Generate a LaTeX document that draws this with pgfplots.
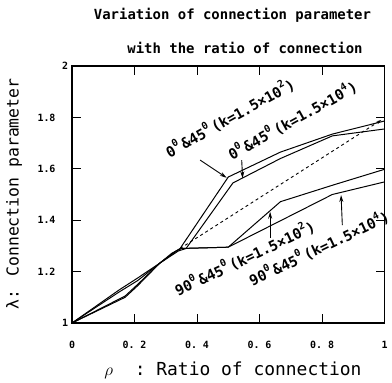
\documentclass[border=0pt]{standalone}
\usepackage{pgfplots}
\pgfplotsset{compat=1.18}
\usepackage{fontspec}
\setmainfont{DejaVu Sans Mono}
\usetikzlibrary{arrows.meta}
\newcommand\sfolk[1]{\raisebox{0.5em}{\fontsize{10}{10}\selectfont #1}}
\begin{document}
\begin{tikzpicture}
\useasboundingbox (0,0) rectangle (392bp,383bp);
\begin{axis}[
  at={(72bp,60bp)}, anchor=south west,
  scale only axis, width=312.5bp, height=257bp,
  xmin=0, xmax=1, ymin=1, ymax=2,
  xtick={0,0.2,0.4,0.6,0.8,1},
  xticklabels={0,0.\ 2,0.\ 4,0.\ 6,0.\ 8,1},
  ytick={1,1.2,1.4,1.6,1.8,2},
  yticklabels={\hspace{37bp}1,1.2,1.4,1.6,1.8,\hspace{37bp}2},
  tick align=inside, major tick length=9bp,
  tick style={black, line width=0.9pt},
  axis line style={line width=1.2pt},
  ticklabel style={font=\bfseries\fontsize{10}{11}\selectfont},
  xticklabel style={anchor=center, yshift=-22bp},
  yticklabel style={anchor=center, xshift=-25.5bp},
  clip=false,
]
% 0 & 45, k=1.5x10^2
\addplot[black, line width=1pt] coordinates {(0,1) (0.15,1.128) (0.21,1.175) (0.28,1.232) (0.33,1.278) (0.346,1.29) (0.5,1.568) (0.667,1.665) (0.833,1.735) (1,1.786)};
% 0 & 45, k=1.5x10^4
\addplot[black, line width=1pt] coordinates {(0,1) (0.17,1.10) (0.21,1.145) (0.28,1.232) (0.34,1.28) (0.365,1.29) (0.515,1.545) (0.667,1.64) (0.833,1.728) (1,1.755)};
% 90 & 45, k=1.5x10^2
\addplot[black, line width=1pt] coordinates {(0,1) (0.15,1.12) (0.21,1.165) (0.28,1.232) (0.32,1.272) (0.35,1.29) (0.5,1.295) (0.667,1.472) (0.836,1.537) (1,1.598)};
% 90 & 45, k=1.5x10^4
\addplot[black, line width=1pt] coordinates {(0,1) (0.17,1.105) (0.21,1.15) (0.28,1.232) (0.335,1.281) (0.35,1.29) (0.5,1.295) (0.833,1.50) (1,1.549)};
% dashed
\addplot[black, line width=0.9pt, dashed, -{Stealth[length=5pt,width=3pt]}] coordinates {(0.346,1.29) (0.99,1.79)};
% annotations
\begin{scope}[every node/.style={font=\bfseries\fontsize{14.5}{15}\selectfont, inner sep=0pt}]
\node[rotate=29] at (axis cs:0.505,1.80) {0\sfolk{0}\,\&45\sfolk{0}\,(k=1.5×10\sfolk{2})};
\node[rotate=29] at (axis cs:0.705,1.79) {0\sfolk{0}\,\&45\sfolk{0}\,(k=1.5×10\sfolk{4})};
\node[rotate=25.5] at (axis cs:0.552,1.253) {90\sfolk{0}\,\&45\sfolk{0}\,(k=1.5×10\sfolk{2})};
\node[rotate=25.5] at (axis cs:0.79,1.292) {90\sfolk{0}\,\&45\sfolk{0}\,(k=1.5×10\sfolk{4})};
\end{scope}
\draw[-{Stealth[length=7pt,width=4pt]}, line width=0.9pt] (axis cs:0.41,1.634) -- (axis cs:0.495,1.565);
\draw[-{Stealth[length=7pt,width=4pt]}, line width=0.9pt] (axis cs:0.543,1.634) -- (axis cs:0.546,1.563);
\draw[-{Stealth[length=7pt,width=4pt]}, line width=0.9pt] (axis cs:0.634,1.33) -- (axis cs:0.634,1.433);
\draw[-{Stealth[length=7pt,width=4pt]}, line width=0.9pt] (axis cs:0.865,1.381) -- (axis cs:0.861,1.498);
\end{axis}
\node[font=\bfseries\fontsize{14}{16}\selectfont] at (232.5bp,368bp) {Variation of connection parameter};
\node[font=\bfseries\fontsize{14}{16}\selectfont] at (245bp,335.5bp) {with the ratio of connection};
\node[font=\fontsize{18}{20}\selectfont] at (233bp,13bp) {$\rho$\ \ :\ Ratio of connection};
\node[font=\fontsize{16.5}{18}\selectfont, rotate=90] at (14bp,189bp) {λ: Connection parameter};
\end{tikzpicture}
\end{document}
